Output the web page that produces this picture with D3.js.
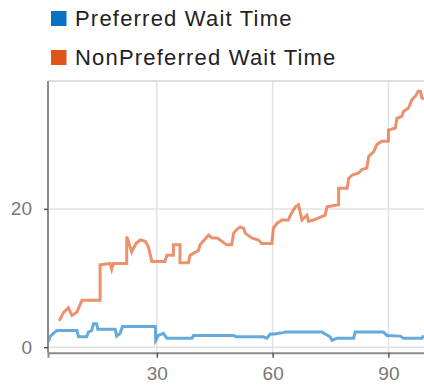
<!DOCTYPE html>
<html>
<head>
<meta charset="utf-8">
<script src="https://cdn.jsdelivr.net/npm/d3@7"></script>
<style>
  html, body { margin: 0; padding: 0; background: #fff; }
  svg { display: block; font-family: "Liberation Sans", Arial, sans-serif; }
</style>
</head>
<body>
<svg id="chart" width="424" height="387"></svg>
<script>
// ---- data ----
const seriesNames = ["Preferred Wait Time", "NonPreferred Wait Time"];
const seriesColors = ["#0a70c4", "#e0541a"];

const preferredX = [1.9, 2.3, 3.2, 4.1, 9.3, 9.7, 11.8, 12.3, 13.1, 13.6, 14.4, 14.7, 19.2, 19.6, 20.5, 21.1, 29.6, 29.7, 30.4, 31.7, 32.6, 39.1, 39.5, 49.9, 50.6, 57.6, 58.5, 59.4, 60.7, 61.5, 62.8, 63.3, 72.8, 73.6, 74.9, 75.4, 76.7, 81.0, 81.4, 88.7, 89.6, 93.1, 93.9, 98.7, 99.1];
const preferredY = [0.8, 1.5, 2.0, 2.4, 2.4, 1.5, 1.5, 2.2, 2.4, 3.4, 3.4, 2.6, 2.6, 1.6, 2.0, 3.0, 3.0, 1.0, 1.7, 2.0, 1.3, 1.3, 1.7, 1.7, 1.5, 1.5, 1.3, 1.9, 1.9, 2.0, 2.1, 2.2, 2.2, 1.9, 1.5, 1.0, 1.3, 1.3, 2.2, 2.2, 1.7, 1.6, 1.3, 1.3, 1.7];

const nonPreferredX = [4.7, 5.8, 7.1, 8.0, 9.3, 10.6, 15.3, 15.3, 17.9, 18.3, 18.7, 22.2, 22.2, 23.5, 24.6, 25.7, 27.0, 27.8, 28.7, 32.1, 32.6, 34.3, 34.3, 36.0, 36.0, 38.2, 38.6, 40.8, 41.2, 43.4, 44.3, 45.6, 46.4, 48.1, 49.4, 49.9, 50.7, 51.6, 52.5, 52.9, 54.6, 56.3, 57.2, 59.8, 60.2, 61.1, 62.4, 64.1, 64.6, 65.9, 66.7, 67.2, 67.6, 68.9, 69.3, 70.6, 71.5, 73.6, 74.1, 77.1, 77.1, 79.3, 79.7, 80.6, 82.3, 83.1, 84.4, 84.9, 86.2, 87.0, 88.3, 90.0, 90.0, 91.8, 92.2, 93.5, 93.9, 95.2, 96.1, 97.0, 97.7, 98.3, 98.7, 99.3];
const nonPreferredY = [3.8, 5.0, 5.7, 4.6, 5.1, 6.8, 6.8, 11.9, 12.1, 11.3, 12.1, 12.1, 16.0, 13.8, 15.0, 15.5, 15.3, 14.5, 12.4, 12.4, 13.3, 13.3, 14.8, 14.8, 12.2, 12.2, 13.3, 14.0, 14.8, 16.2, 15.8, 15.8, 15.5, 14.8, 14.8, 16.5, 17.0, 17.4, 17.2, 16.5, 15.8, 15.5, 15.0, 15.0, 17.2, 17.9, 18.4, 18.4, 19.1, 20.3, 20.6, 19.4, 18.4, 19.1, 18.2, 18.4, 18.6, 19.1, 20.3, 20.6, 23.0, 23.0, 24.4, 24.9, 25.2, 25.7, 25.9, 27.6, 28.3, 29.3, 29.8, 29.8, 31.4, 31.7, 33.1, 33.4, 34.1, 34.6, 35.8, 36.3, 37.0, 37.0, 36.0, 36.0];

const xTicks = [30, 60, 90];
const yTicks = [0, 20];

// ---- layout ----
const svg = d3.select("#chart");
const plot = { left: 48, top: 81, right: 427, bottom: 352.7 };

const x = d3.scaleLinear().domain([1.8, 100]).range([plot.left, plot.right]);
const y = d3.scaleLinear().domain([-0.8, 38.5]).range([plot.bottom, plot.top]);

// gridlines
const grid = svg.append("g");
grid.selectAll("line.gx").data(xTicks).join("line")
  .attr("x1", d => x(d)).attr("x2", d => x(d))
  .attr("y1", plot.top).attr("y2", plot.bottom)
  .attr("stroke", "#e2e2e2").attr("stroke-width", 1.5);
grid.selectAll("line.gy").data(yTicks).join("line")
  .attr("x1", plot.left).attr("x2", 424)
  .attr("y1", d => y(d)).attr("y2", d => y(d))
  .attr("stroke", "#e2e2e2").attr("stroke-width", 1.5);

// top frame line
svg.append("line")
  .attr("x1", plot.left).attr("x2", 424)
  .attr("y1", plot.top).attr("y2", plot.top)
  .attr("stroke", "#d4d4d4").attr("stroke-width", 1.5);

// series lines
const line = d3.line().x(d => x(d[0])).y(d => y(d[1]));
const series = [
  d3.zip(preferredX, preferredY),
  d3.zip(nonPreferredX, nonPreferredY)
];
const lineColors = ["#3d95d6", "#e6764a"];
svg.append("g").selectAll("path").data(series).join("path")
  .attr("d", line)
  .attr("fill", "none")
  .attr("stroke", (d, i) => lineColors[i])
  .attr("stroke-width", 3)
  .attr("stroke-opacity", 0.8)
  .attr("stroke-linejoin", "miter");

// axes
const xAxis = d3.axisBottom(x).tickValues(xTicks).tickSize(5).tickPadding(9);
const gx = svg.append("g").attr("transform", `translate(0,${plot.bottom})`).call(xAxis);
gx.select(".domain").attr("stroke", "#8a8a8a").attr("stroke-width", 2);
gx.selectAll(".tick line").attr("stroke", "#555").attr("stroke-width", 1.5);
gx.selectAll("text").attr("fill", "#777").attr("font-size", 19)
  .attr("font-family", "Liberation Sans, Arial, sans-serif");

const yAxis = d3.axisLeft(y).tickValues(yTicks).tickSize(4).tickPadding(12);
const gy = svg.append("g").attr("transform", `translate(${plot.left},0)`).call(yAxis);
gy.select(".domain").attr("stroke", "#8a8a8a").attr("stroke-width", 2)
  .attr("d", `M0,${plot.top}V${plot.bottom}`);
gy.selectAll(".tick line").attr("stroke", "#555").attr("stroke-width", 1.5);
gy.selectAll("text").attr("fill", "#777").attr("font-size", 19)
  .attr("font-family", "Liberation Sans, Arial, sans-serif");

// legend
const legend = svg.append("g");
const items = legend.selectAll("g").data(seriesNames).join("g")
  .attr("transform", (d, i) => `translate(51,${11 + i * 39})`);
items.append("rect").attr("width", 15.5).attr("height", 15)
  .attr("fill", (d, i) => seriesColors[i]);
items.append("text").attr("x", 24).attr("y", 15)
  .attr("font-size", 22).attr("letter-spacing", 1.2).attr("fill", "#222")
  .text(d => d);
</script>
</body>
</html>
